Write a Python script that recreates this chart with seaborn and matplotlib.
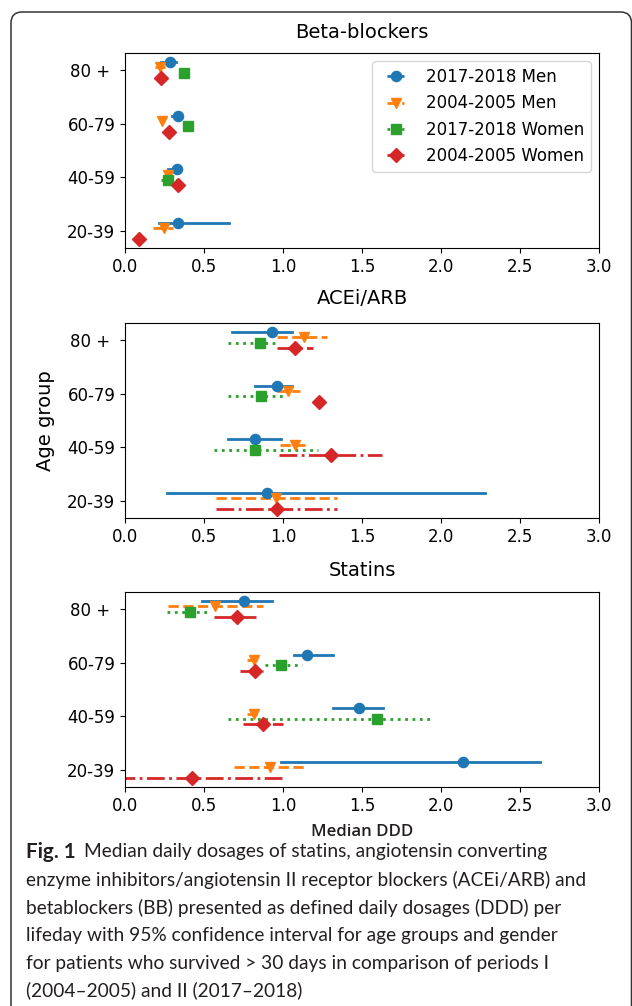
import numpy as np
import pandas as pd
import matplotlib
matplotlib.use("Agg")
import matplotlib.pyplot as plt
import seaborn as sns
from matplotlib.patches import FancyBboxPatch
from matplotlib.transforms import IdentityTransform
from matplotlib.lines import Line2D
from matplotlib.collections import LineCollection
from matplotlib.container import ErrorbarContainer

# ---------------- data ----------------
ages = ["80 + ", "60-79", "40-59", "20-39"]
series = ["2017-2018 Men", "2004-2005 Men", "2017-2018 Women", "2004-2005 Women"]
colors = ["#1f77b4", "#ff7f0e", "#2ca02c", "#d62728"]
markers = ["o", "v", "s", "D"]
linestyles = ["-", "--", ":", "-."]
panel_titles = ["Beta-blockers", "ACEi/ARB", "Statins"]
x_ticks = [0.0, 0.5, 1.0, 1.5, 2.0, 2.5, 3.0]

nan = np.nan
# rows = series, columns = age groups (80+, 60-79, 40-59, 20-39)
bb_med = [[0.285, 0.333, 0.327, 0.333],
          [0.220, 0.232, 0.274, 0.247],
          [0.373, 0.397, 0.270, nan],
          [0.226, 0.281, 0.333, 0.089]]
bb_lo = [[0.230, 0.300, 0.270, 0.217],
         [0.190, 0.220, 0.260, 0.175],
         [0.340, 0.385, 0.226, nan],
         [0.210, 0.270, 0.300, 0.080]]
bb_hi = [[0.320, 0.350, 0.340, 0.658],
         [0.250, 0.245, 0.300, 0.306],
         [0.385, 0.410, 0.365, nan],
         [0.240, 0.290, 0.350, 0.095]]

ace_med = [[0.930, 0.960, 0.820, 0.900],
           [1.136, 1.030, 1.075, 0.955],
           [0.853, 0.860, 0.820, nan],
           [1.075, 1.228, 1.305, 0.960]]
ace_lo = [[0.680, 0.820, 0.654, 0.263],
          [0.965, 0.965, 0.983, 0.574],
          [0.654, 0.654, 0.564, nan],
          [0.960, 1.195, 0.973, 0.574]]
ace_hi = [[1.060, 1.060, 0.985, 2.280],
          [1.277, 1.105, 1.164, 1.343],
          [0.965, 1.016, 1.220, nan],
          [1.187, 1.260, 1.624, 1.343]]

sta_med = [[0.750, 1.151, 1.483, 2.140],
           [0.572, 0.814, 0.817, 0.919],
           [0.414, 0.990, 1.595, nan],
           [0.707, 0.820, 0.876, 0.421]]
sta_lo = [[0.488, 1.067, 1.317, 0.985],
          [0.270, 0.774, 0.774, 0.689],
          [0.263, 0.888, 0.654, nan],
          [0.564, 0.730, 0.748, -0.050]]
sta_hi = [[0.932, 1.317, 1.634, 2.624],
          [0.876, 0.850, 0.863, 1.151],
          [0.531, 1.123, 1.948, nan],
          [0.832, 0.876, 1.003, 1.016]]

caption_lines = [
    "Median daily dosages of statins, angiotensin converting",
    "enzyme inhibitors/angiotensin II receptor blockers (ACEi/ARB) and",
    "betablockers (BB) presented as defined daily dosages (DDD) per",
    "lifeday with 95% confidence interval for age groups and gender",
    "for patients who survived > 30 days in comparison of periods I",
    "(2004\u20132005) and II (2017\u20132018)",
]


def long_frame(med, lo, hi):
    rows = []
    for si, s in enumerate(series):
        for ai, a in enumerate(ages):
            if np.isnan(med[si][ai]):
                continue
            for v in (lo[si][ai], med[si][ai], hi[si][ai]):
                rows.append({"series": s, "age": a, "value": v})
    return pd.DataFrame(rows)


panels = [long_frame(bb_med, bb_lo, bb_hi),
          long_frame(ace_med, ace_lo, ace_hi),
          long_frame(sta_med, sta_lo, sta_hi)]

# ---------------- figure ----------------
W, H = 632, 1006
fig = plt.figure(figsize=(W / 100, H / 100), dpi=100)
plt.rcParams["font.family"] = ["DejaVu Sans"]

ax_top_px = [53, 323, 592]
title_pad_px = [15, 19, 16]
ax_h_px = 195
left_px, right_px = 125, 599
axes = []
for top in ax_top_px:
    ax = fig.add_axes([left_px / W, 1 - (top + ax_h_px) / H,
                       (right_px - left_px) / W, ax_h_px / H])
    axes.append(ax)

for ax, df, title, tp in zip(axes, panels, panel_titles, title_pad_px):
    for si, s in enumerate(series):
        sub = df[df["series"] == s]
        if sub.empty:
            continue
        sns.pointplot(data=sub, x="value", y="age", hue="series",
                      order=ages, hue_order=series, palette=colors,
                      markers=markers, linestyles="none", dodge=0.3,
                      estimator="median",
                      errorbar=lambda v: (np.min(v), np.max(v)),
                      err_kws={"linestyle": linestyles[si], "linewidth": 2.0},
                      markersize=7.3, markeredgewidth=1, linewidth=2.0,
                      legend=False, ax=ax)
    for ln in ax.lines:
        if ln.get_marker() not in (None, "None", "none", ""):
            ln.set_zorder(3)
    ax.set_xlim(0, 3)
    ax.set_ylim(3.315, -0.315)
    ax.set_xticks(x_ticks)
    ax.set_xticklabels([f"{t:.1f}" for t in x_ticks])
    ax.set_xlabel("")
    ax.set_ylabel("")
    ax.tick_params(labelsize=12)
    ax.set_title(title, fontsize=14, pad=tp * 0.72)
    for sp in ax.spines.values():
        sp.set_visible(True)
        sp.set_color("black")

axes[1].set_ylabel("Age group", fontsize=14, labelpad=9)

# legend with errorbar-style handles
handles = []
for c, m, ls in zip(colors, markers, linestyles):
    pl = Line2D([], [], color=c, marker=m, linestyle="none", markersize=7.3)
    lc = LineCollection([], colors=c, linestyles=ls, linewidths=2.0)
    handles.append(ErrorbarContainer((pl, (), (lc,)), has_xerr=True, has_yerr=False))
axes[0].legend(handles, series, loc="upper right", fontsize=12, handlelength=2.0)

# frame around the figure panel
box = FancyBboxPatch((11, -30), 620.5, 1006 - 12 + 30,
                     boxstyle="round,pad=0,rounding_size=11",
                     transform=IdentityTransform(), fill=False,
                     edgecolor="#333333", linewidth=1.1)
fig.patches.append(box)

# x label and caption
renderer = fig.canvas.get_renderer()
xl = fig.text((left_px + right_px) / 2 / W, 1 - 832 / H, "Median DDD",
              ha="center", va="center", fontsize=10.5, family="Open Sans",
              fontweight="semibold", color="#231f20")
w = xl.get_window_extent(renderer).width
xl.set_fontsize(10.5 * 102 / w)

cap_y = [852, 880, 908, 935, 963, 990]
cap_x = 26
probe = fig.text(0, 0, caption_lines[1], fontsize=12, family="Lato")
wp = probe.get_window_extent(renderer).width
probe.remove()
cap_fs = 12 * 559 / wp

fig1 = fig.text(cap_x / W, 1 - cap_y[0] / H, "Fig. 1", fontsize=cap_fs * 1.08,
                family="Lato", fontweight="bold", va="center", color="#231f20")
bb = fig1.get_window_extent(renderer)
fig.text((bb.x1 + 8) / W, 1 - cap_y[0] / H, caption_lines[0], fontsize=cap_fs,
         family="Lato", va="center", color="#231f20")
for line, y in zip(caption_lines[1:], cap_y[1:]):
    fig.text(cap_x / W, 1 - y / H, line, fontsize=cap_fs, family="Lato",
             va="center", color="#231f20")

fig.savefig("out.png", dpi=100, facecolor="white")
